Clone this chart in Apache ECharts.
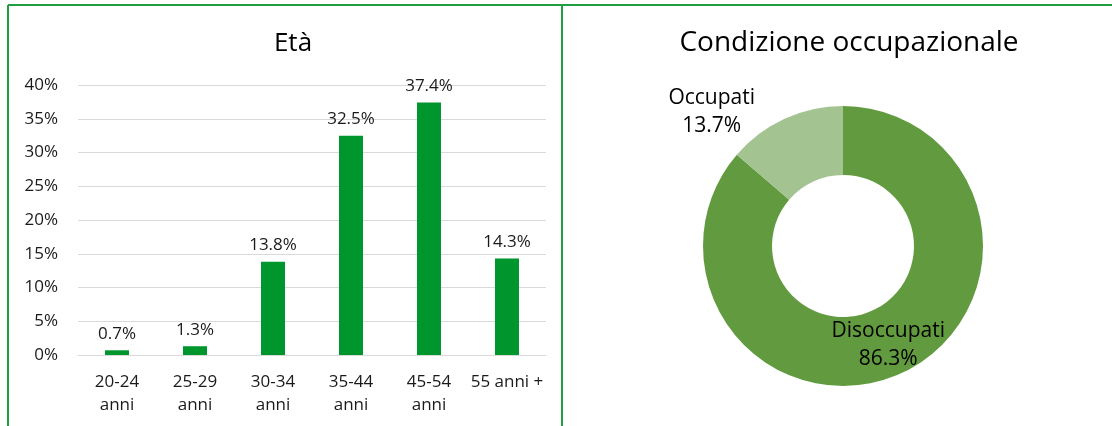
<!DOCTYPE html>
<html>
<head>
<meta charset="utf-8">
<script src="https://cdn.jsdelivr.net/npm/echarts@6/dist/echarts.min.js"></script>
<style>
html,body{margin:0;padding:0;background:#fff;}
#c{width:1112px;height:426px;}
</style>
</head>
<body>
<div id="c"></div>
<script>
const ageCategories = ['20-24\nanni', '25-29\nanni', '30-34\nanni', '35-44\nanni', '45-54\nanni', '55 anni +'];
const ageValues = [0.7, 1.3, 13.8, 32.5, 37.4, 14.3];
const yTicks = { min: 0, max: 40, interval: 5 };
const jobNames = ['Disoccupati', 'Occupati'];
const jobValues = [86.3, 13.7];

const FONT = 'Open Sans';
const chart = echarts.init(document.getElementById('c'), null, { renderer: 'canvas' });
const border = '#1f9e42';

chart.setOption({
  animation: false,
  backgroundColor: '#ffffff',
  textStyle: { fontFamily: FONT },
  title: [
    { text: 'Età', left: 288, top: 26, textAlign: 'center',
      textStyle: { fontFamily: FONT, fontSize: 26, fontWeight: 'normal', color: '#000' } },
    { text: 'Condizione occupazionale', left: 844, top: 24, textAlign: 'center',
      textStyle: { fontFamily: FONT, fontSize: 28, fontWeight: 'normal', color: '#000' } }
  ],
  graphic: [
    { type: 'line', shape: { x1: 8, y1: 5, x2: 1112, y2: 5 }, style: { stroke: border, lineWidth: 2 } },
    { type: 'line', shape: { x1: 8, y1: 5, x2: 8, y2: 426 }, style: { stroke: border, lineWidth: 2 } },
    { type: 'line', shape: { x1: 562, y1: 5, x2: 562, y2: 426 }, style: { stroke: border, lineWidth: 2 } }
  ],
  grid: { left: 78, right: 566, top: 85, bottom: 71 },
  xAxis: {
    type: 'category',
    data: ageCategories,
    axisLine: { show: true, lineStyle: { color: '#d9d9d9', width: 1 } },
    axisTick: { show: false },
    axisLabel: { fontFamily: FONT, fontSize: 17, color: '#1a1a1a', lineHeight: 23, margin: 16, interval: 0 }
  },
  yAxis: {
    type: 'value',
    min: yTicks.min, max: yTicks.max, interval: yTicks.interval,
    axisLine: { show: false },
    axisTick: { show: false },
    splitLine: { lineStyle: { color: '#d9d9d9', width: 1 } },
    axisLabel: { fontFamily: FONT, fontSize: 17, color: '#1a1a1a', margin: 20, formatter: v => v + '%' }
  },
  series: [
    {
      type: 'bar',
      data: ageValues,
      barWidth: 24,
      itemStyle: { color: '#00962e' },
      label: { show: true, position: 'top', distance: 8, fontFamily: FONT, fontSize: 17, color: '#1a1a1a',
        formatter: p => p.value.toFixed(1) + '%' }
    },
    {
      type: 'pie',
      center: [843, 246],
      radius: [71, 140],
      startAngle: 90,
      clockwise: true,
      avoidLabelOverlap: false,
      labelLine: { show: false },
      data: jobNames.map((n, i) => ({
        name: n,
        value: jobValues[i],
        itemStyle: { color: i === 0 ? '#629b3f' : '#a3c491' },
        label: i === 0
          ? { position: 'inside' }
          : { position: 'inside', offset: [-86, -35] }
      })),
      itemStyle: { borderColor: '#fff', borderWidth: 0 },
      label: { show: true, fontFamily: FONT, fontSize: 21, color: '#000', lineHeight: 28,
        formatter: p => p.name + '\n' + p.value.toFixed(1) + '%' }
    }
  ]
});
</script>
</body>
</html>
